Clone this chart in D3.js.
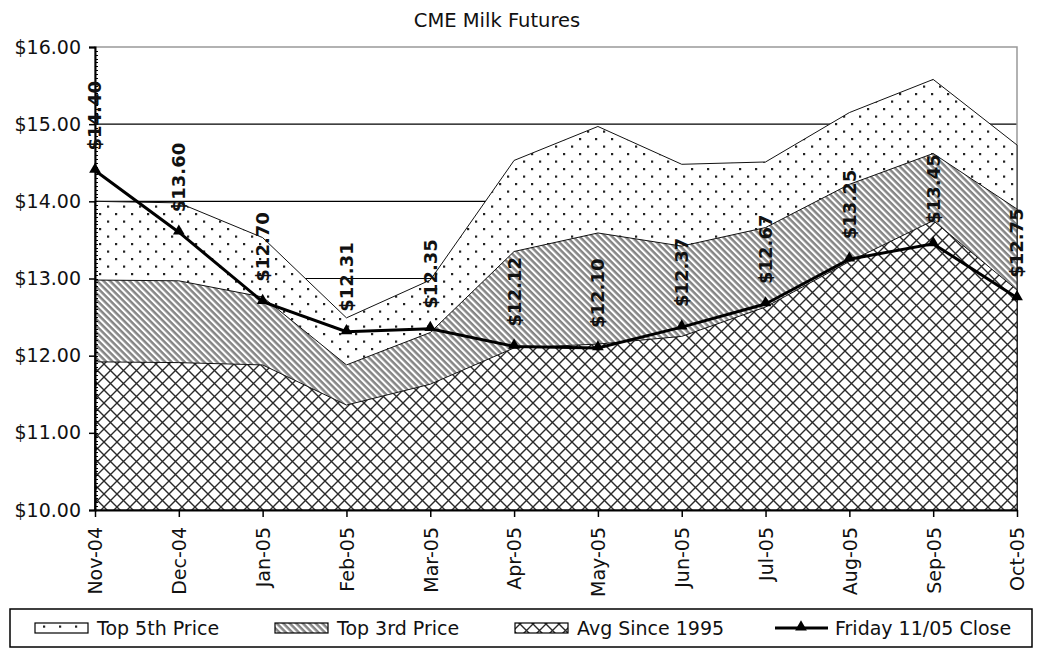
<!DOCTYPE html>
<html>
<head>
<meta charset="utf-8">
<script src="https://cdn.jsdelivr.net/npm/d3@7"></script>
<style>
  body { margin: 0; background: #fff; }
  text { font-family: "DejaVu Sans", sans-serif; fill: #111; }
</style>
</head>
<body>
<svg id="svg" width="1044" height="648"></svg>
<script>
// month categories
var months = ['Nov-04', 'Dec-04', 'Jan-05', 'Feb-05', 'Mar-05', 'Apr-05',
              'May-05', 'Jun-05', 'Jul-05', 'Aug-05', 'Sep-05', 'Oct-05']

// series
var top5 = [14.00, 13.98, 13.53, 12.49, 12.98, 14.53, 14.97, 14.48, 14.51, 15.15, 15.58, 14.73]
var top3 = [12.98, 12.97, 12.76, 11.88, 12.30, 13.35, 13.59, 13.42, 13.66, 14.22, 14.62, 13.90]
var avg95 = [11.92, 11.91, 11.88, 11.36, 11.63, 12.10, 12.15, 12.25, 12.63, 13.22, 13.75, 12.85]
var close = [14.40, 13.60, 12.70, 12.31, 12.35, 12.12, 12.10, 12.37, 12.67, 13.25, 13.45, 12.75]

var yTicks = [10, 11, 12, 13, 14, 15, 16]
var legendNames = ['Top 5th Price', 'Top 3rd Price', 'Avg Since 1995', 'Friday 11/05 Close']

var svg = d3.select('#svg')
var fmt = d3.format('$.2f')

var x = d3.scalePoint().domain(months).range([95, 1017])
var y = d3.scaleLinear().domain([10, 16]).range([510, 47])

// fill patterns
var defs = svg.append('defs')

var dots = defs.append('pattern').attr('id', 'dots')
    .attr('patternUnits', 'userSpaceOnUse').attr('width', 16).attr('height', 15)
dots.append('rect').attr('width', 16).attr('height', 15).attr('fill', '#fff')
dots.append('rect').attr('x', 3).attr('y', 3).attr('width', 2.2).attr('height', 2.2).attr('fill', '#222')
dots.append('rect').attr('x', 11).attr('y', 10.5).attr('width', 2.2).attr('height', 2.2).attr('fill', '#222')

// stripes running down to the right
var hatch = defs.append('pattern').attr('id', 'hatch')
    .attr('patternUnits', 'userSpaceOnUse').attr('width', 4.6).attr('height', 4.6)
    .attr('patternTransform', 'rotate(45)')
hatch.append('rect').attr('width', 4.6).attr('height', 4.6).attr('fill', '#fff')
hatch.append('rect').attr('width', 4.6).attr('height', 2.5).attr('fill', '#858585')

var cross = defs.append('pattern').attr('id', 'cross')
    .attr('patternUnits', 'userSpaceOnUse').attr('width', 13).attr('height', 13)
cross.append('rect').attr('width', 13).attr('height', 13).attr('fill', '#fff')
cross.append('path').attr('d', 'M0,0L13,13M13,0L0,13M-1,12L1,14M12,-1L14,1')
    .attr('stroke', '#2a2a2a').attr('stroke-width', 1.4).attr('fill', 'none')

// title
svg.append('text').attr('x', 497).attr('y', 27).attr('text-anchor', 'middle')
    .style('font-size', '19.5px').text('CME Milk Futures')

// gridlines, behind the areas
svg.append('g').selectAll('line').data(yTicks.slice(1, -1)).enter().append('line')
    .attr('x1', 95).attr('x2', 1017)
    .attr('y1', function(d) { return y(d) }).attr('y2', function(d) { return y(d) })
    .attr('stroke', '#000').attr('stroke-width', 1.2)

// plot frame
svg.append('rect').attr('x', 95).attr('y', y(16)).attr('width', 1017 - 95).attr('height', y(10) - y(16))
    .attr('fill', 'none').attr('stroke', '#999').attr('stroke-width', 1.5)

var series = [
    { values: top5, fill: 'url(#dots)' },
    { values: top3, fill: 'url(#hatch)' },
    { values: avg95, fill: 'url(#cross)' }
]

var area = d3.area()
    .x(function(d, i) { return x(months[i]) })
    .y0(y(10))
    .y1(function(d) { return y(d) })

series.forEach(function(s) {
    svg.append('path').datum(s.values)
        .attr('d', area)
        .attr('fill', s.fill)
        .attr('stroke', '#111').attr('stroke-width', 1)
})

// axes
var yAxis = svg.append('g').attr('transform', 'translate(95,0)')
    .call(d3.axisLeft(y).tickValues(yTicks).tickFormat(fmt).tickSize(6).tickPadding(8))
yAxis.select('.domain').attr('stroke', '#000').attr('stroke-width', 2)
yAxis.selectAll('.tick line').attr('stroke-width', 1.5)
yAxis.selectAll('text').style('font-size', '19px').attr('fill', '#111')

// minor ticks on the value axis
svg.append('g').selectAll('line').data(d3.range(10, 16, 0.05)).enter().append('line')
    .attr('x1', 95).attr('x2', 98)
    .attr('y1', function(d) { return Math.round(y(d)) + 0.5 })
    .attr('y2', function(d) { return Math.round(y(d)) + 0.5 })
    .attr('stroke', '#000').attr('stroke-width', 1)

var xAxis = svg.append('g').attr('transform', 'translate(0,510)')
    .call(d3.axisBottom(x).tickSize(7).tickSizeOuter(0))
xAxis.select('.domain').attr('stroke', '#000').attr('stroke-width', 2)
xAxis.selectAll('.tick line').attr('stroke-width', 1.5)
xAxis.selectAll('text')
    .style('font-size', '19px').attr('fill', '#111')
    .attr('text-anchor', 'end')
    .attr('transform', 'rotate(-90)')
    .attr('x', -17).attr('y', 0).attr('dy', '0.36em')

// close line with markers
var line = d3.line()
    .x(function(d, i) { return x(months[i]) })
    .y(function(d) { return y(d) })

svg.append('path').datum(close).attr('d', line)
    .attr('fill', 'none').attr('stroke', '#000').attr('stroke-width', 3)

var tri = d3.symbol().type(d3.symbolTriangle).size(60)

svg.append('g').selectAll('path').data(close).enter().append('path')
    .attr('d', tri)
    .attr('transform', function(d, i) { return 'translate(' + x(months[i]) + ',' + (y(d) - 1) + ')' })
    .attr('fill', '#000')

// data labels
svg.append('g').selectAll('text').data(close).enter().append('text')
    .attr('transform', function(d, i) {
        return 'translate(' + x(months[i]) + ',' + (y(d) - 20) + ') rotate(-90)'
    })
    .attr('dy', '0.36em')
    .style('font-size', '18px').style('font-weight', 'bold')
    .text(function(d) { return fmt(d) })

// legend
var legend = svg.append('g')
legend.append('rect').attr('x', 10).attr('y', 609).attr('width', 1022).attr('height', 38)
    .attr('fill', '#fff').attr('stroke', '#000').attr('stroke-width', 1.5)

var swatchX = [35, 275, 515]
series.forEach(function(s, i) {
    legend.append('rect').attr('x', swatchX[i]).attr('y', 623).attr('width', 53).attr('height', 10)
        .attr('fill', s.fill).attr('stroke', '#000').attr('stroke-width', 1.2)
    legend.append('text').attr('x', swatchX[i] + 62).attr('y', 635)
        .style('font-size', '19px').text(legendNames[i])
})

legend.append('line').attr('x1', 775).attr('x2', 828).attr('y1', 628).attr('y2', 628)
    .attr('stroke', '#000').attr('stroke-width', 3)
legend.append('path').attr('d', tri).attr('transform', 'translate(801,627)').attr('fill', '#000')
legend.append('text').attr('x', 835).attr('y', 635)
    .style('font-size', '19px').text(legendNames[3])
</script>
</body>
</html>
